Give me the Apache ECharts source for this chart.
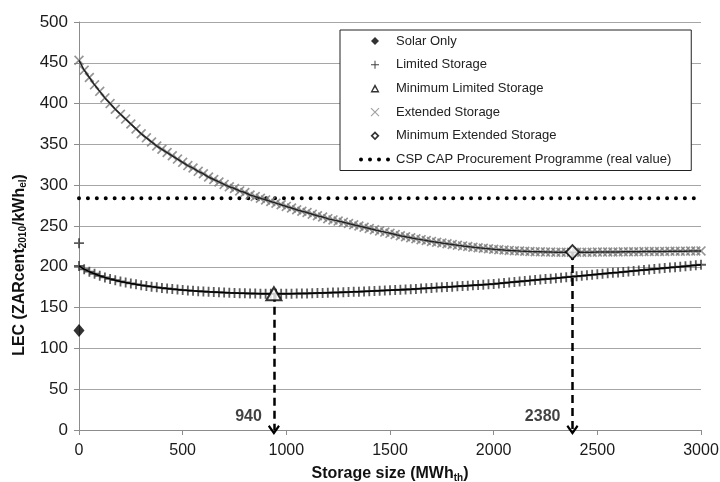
<!DOCTYPE html>
<html><head><meta charset="utf-8">
<script src="https://cdn.jsdelivr.net/npm/echarts@6/dist/echarts.min.js"></script>
<style>html,body{margin:0;padding:0;background:#fff}#c{width:720px;height:482px}</style>
</head><body><div id="c"></div>
<script>
// ---- data ----
const storageSize = [0,25,50,75,100,125,150,175,200,225,250,275,300,325,350,375,400,425,450,475,500,525,550,575,600,625,650,675,700,725,750,775,800,825,850,875,900,925,950,975,1000,1025,1050,1075,1100,1125,1150,1175,1200,1225,1250,1275,1300,1325,1350,1375,1400,1425,1450,1475,1500,1525,1550,1575,1600,1625,1650,1675,1700,1725,1750,1775,1800,1825,1850,1875,1900,1925,1950,1975,2000,2025,2050,2075,2100,2125,2150,2175,2200,2225,2250,2275,2300,2325,2350,2375,2400,2425,2450,2475,2500,2525,2550,2575,2600,2625,2650,2675,2700,2725,2750,2775,2800,2825,2850,2875,2900,2925,2950,2975,3000];
const limitedLEC = [201,197,194,191.5,189,187,185.2,183.6,182.1,180.8,179.6,178.5,177.5,176.6,175.7,174.9,174.1,173.4,172.7,172.1,171.5,171,170.5,170.1,169.7,169.3,169,168.7,168.4,168.1,167.9,167.7,167.5,167.3,167.2,167.1,167,167,167,167,167,167.1,167.2,167.3,167.4,167.6,167.8,168,168.2,168.4,168.6,168.8,169,169.3,169.5,169.8,170.1,170.4,170.7,171,171.3,171.6,171.9,172.2,172.5,172.9,173.3,173.7,174.1,174.5,174.9,175.3,175.7,176.1,176.5,176.9,177.3,177.7,178.1,178.5,179,179.6,180.2,180.8,181.4,182,182.5,183.1,183.7,184.3,184.9,185.5,186.1,186.7,187.3,187.9,188.4,189,189.6,190.2,190.8,191.4,192,192.6,193.1,193.7,194.3,194.9,195.5,196.1,196.7,197.3,197.8,198.4,199,199.6,200.2,200.8,201.4,202,202.5];
const extendedLEC = [453,441,432,423,415,407,400,393,387,381,375,369,363,358,353,348,344,340,336,332,328,324,321,317,314,310,307,304,301,298,296,293,291,288,286,284,282,280,278,276,274,272,270,268,266.5,264.5,262.5,261,259,257.5,256,254.5,253,251.5,250,248.5,247,245.5,244,242.5,241,239.5,238,236.8,235.6,234.4,233.3,232.2,231.1,230.1,229.1,228.2,227.3,226.4,225.6,224.8,224.1,223.4,222.7,222.1,221.5,221,220.5,220.1,219.7,219.3,219,218.7,218.5,218.3,218.1,218,217.9,217.8,217.8,217.8,217.8,217.8,217.9,217.9,218,218,218.1,218.2,218.2,218.3,218.4,218.5,218.5,218.6,218.7,218.8,218.8,218.9,219,219.1,219.1,219.2,219.3,219.4,219.5];
const solarOnly = [[0, 122]];
const limitedSingle = [[0, 229]];
const minLimited = [[940, 167]];
const minExtended = [[2380, 218]];
const cspX = [0, 3000];
const cspY = [284, 284];
const minLabels = ['940', '2380'];
const legendNames = ['Solar Only','Limited Storage','Minimum Limited Storage','Extended Storage','Minimum Extended Storage','CSP CAP Procurement Programme (real value)'];

// ---- build ----
const pair = (xs, ys) => xs.map((x, i) => [x, ys[i]]);
const limitedPts = pair(storageSize, limitedLEC);
const extendedPts = pair(storageSize, extendedLEC);
const FONT = 'Arial, "Liberation Sans", sans-serif';

const plusSym = 'path://M4.1,0h1.8v4.1h4.1v1.8h-4.1v4.1h-1.8v-4.1h-4.1v-1.8h4.1z';
const crossSym = 'path://M1.2,0L5,3.8L8.8,0L10,1.2L6.2,5L10,8.8L8.8,10L5,6.2L1.2,10L0,8.8L3.8,5L0,1.2Z';
const arrowSym = 'path://M5,0L10,6.5L8.6,7.6L5,3L1.4,7.6L0,6.5Z';

const F = 'M0,0M32,14';
const icons = {
  solar: 'path://' + F + 'M16,3L20,7L16,11L12,7Z',
  plus: 'path://' + F + 'M15.5,3h1v3.5h3.5v1h-3.5v3.5h-1v-3.5h-3.5v-1h3.5z',
  tri: 'path://' + F + 'M16,2.5L20.5,11L11.5,11ZM16,5.8L13.7,9.6L18.3,9.6Z',
  cross: 'path://' + F + 'M11.6,3.4L12.4,2.6L20.4,10.6L19.6,11.4ZM19.6,2.6L20.4,3.4L12.4,11.4L11.6,10.6Z',
  dia: 'path://' + F + 'M16,2.5L20.5,7L16,11.5L11.5,7ZM16,4.9L13.9,7L16,9.1L18.1,7Z',
  dots: 'path://' + F + 'M0,7a2,2 0 1,0 4,0a2,2 0 1,0 -4,0ZM9,7a2,2 0 1,0 4,0a2,2 0 1,0 -4,0ZM18,7a2,2 0 1,0 4,0a2,2 0 1,0 -4,0ZM27,7a2,2 0 1,0 4,0a2,2 0 1,0 -4,0Z'
};
const iconList = [icons.solar, icons.plus, icons.tri, icons.cross, icons.dia, icons.dots];
const iconColors = ['#000', '#111', '#000', '#888', '#000', '#000'];

const chart = echarts.init(document.getElementById('c'), null, {renderer: 'canvas'});
chart.setOption({
  animation: false,
  backgroundColor: '#fff',
  textStyle: {fontFamily: FONT},
  grid: {left: 79, right: 19, top: 22, bottom: 52, containLabel: false, outerBoundsMode: 'none'},
  legend: {
    left: 340, top: 30, orient: 'vertical',
    padding: [4, 20, 4, 19],
    itemWidth: 32, itemHeight: 14, itemGap: 9.7,
    borderColor: '#222', borderWidth: 1, backgroundColor: '#fff',
    selectedMode: false,
    textStyle: {fontSize: 13, color: '#222', fontFamily: FONT, lineHeight: 14},
    data: legendNames.map((n, i) => ({name: n, icon: iconList[i], itemStyle: {color: iconColors[i], borderWidth: 0}}))
  },
  xAxis: {
    type: 'value', min: 0, max: 3000, interval: 500,
    name: '{b|Storage size (MWh}{s|th}{b|)}', nameLocation: 'middle', nameGap: 35,
    nameTextStyle: {rich: {b: {fontSize: 16, fontWeight: 'bold', color: '#111', fontFamily: FONT}, s: {fontSize: 10, fontWeight: 'bold', color: '#111', verticalAlign: 'bottom', padding: [8, 0, 0, 0], fontFamily: FONT}}},
    axisLine: {show: true, lineStyle: {color: '#8c8c8c', width: 1}},
    axisTick: {show: true, length: 5, lineStyle: {color: '#8c8c8c'}},
    axisLabel: {fontSize: 16, color: '#1a1a1a', margin: 13, fontFamily: FONT, formatter: v => String(v)},
    splitLine: {show: false}
  },
  yAxis: {
    type: 'value', min: 0, max: 500, interval: 50,
    name: '{b|LEC (ZARcent}{s|2010}{b|/kWh}{s|el}{b|)}', nameLocation: 'middle', nameGap: 46, nameRotate: 90,
    nameTextStyle: {padding: [0, 78, 0, 0], rich: {b: {fontSize: 16, fontWeight: 'bold', color: '#111', fontFamily: FONT}, s: {fontSize: 10, fontWeight: 'bold', color: '#111', verticalAlign: 'bottom', padding: [8, 0, 0, 0], fontFamily: FONT}}},
    axisLine: {show: true, lineStyle: {color: '#8c8c8c', width: 1}},
    axisTick: {show: true, length: 5, lineStyle: {color: '#8c8c8c'}},
    axisLabel: {fontSize: 17, color: '#1a1a1a', margin: 11, fontFamily: FONT},
    splitLine: {show: true, lineStyle: {color: '#a6a6a6', width: 1}}
  },
  series: [
    {name: 'CSP CAP Procurement Programme (real value)', type: 'line', data: pair(cspX, cspY), symbol: 'none', z: 1,
     lineStyle: {color: '#000', width: 4, type: [0.01, 8.9], cap: 'round'}, itemStyle: {color: '#000'}},
    {name: 'Extended Storage', type: 'scatter', data: extendedPts, symbol: crossSym, symbolSize: 10, z: 2,
     itemStyle: {color: '#7a7a7a'}},
    {name: 'Extended trend', type: 'line', data: extendedPts, symbol: 'none', z: 3, silent: true,
     lineStyle: {color: '#222', width: 1.5}},
    {name: 'Limited Storage', type: 'scatter', data: limitedPts.concat(limitedSingle), symbol: plusSym, symbolSize: 10, z: 2,
     itemStyle: {color: '#333'}},
    {name: 'Limited trend', type: 'line', data: limitedPts, symbol: 'none', z: 3, silent: true,
     lineStyle: {color: '#000', width: 1.5}},
    {name: 'Solar Only', type: 'scatter', data: solarOnly, symbol: 'diamond', symbolSize: [11, 13], z: 5,
     itemStyle: {color: '#000'}},
    {name: 'Minimum Limited Storage', type: 'scatter', data: minLimited, symbol: 'triangle', symbolSize: [15, 13], z: 6,
     itemStyle: {color: '#fff', borderColor: '#000', borderWidth: 2},
     markLine: {silent: true, z: 4, symbol: ['none', arrowSym], symbolSize: [12, 10], label: {show: false},
       lineStyle: {type: [8, 5], width: 2.5, color: '#000'},
       data: [[{coord: [minLimited[0][0], minLimited[0][1]]}, {coord: [minLimited[0][0], 0]}]]}},
    {name: 'Minimum Extended Storage', type: 'scatter', data: minExtended, symbol: 'diamond', symbolSize: [13, 14], z: 6,
     itemStyle: {color: '#fff', borderColor: '#000', borderWidth: 2},
     markLine: {silent: true, z: 4, symbol: ['none', arrowSym], symbolSize: [12, 10], label: {show: false},
       lineStyle: {type: [8, 5], width: 2.5, color: '#000'},
       data: [[{coord: [minExtended[0][0], minExtended[0][1]]}, {coord: [minExtended[0][0], 0]}]]}},
    {name: 'min labels', type: 'scatter', symbolSize: 0, z: 7, silent: true,
     data: [[minLimited[0][0], 0, minLabels[0]], [minExtended[0][0], 0, minLabels[1]]],
     label: {show: true, formatter: p => p.value[2], position: [-12, -13], align: 'right', verticalAlign: 'middle',
       fontSize: 16, fontWeight: 'bold', color: '#111', fontFamily: FONT}}
  ]
});
</script></body></html>
